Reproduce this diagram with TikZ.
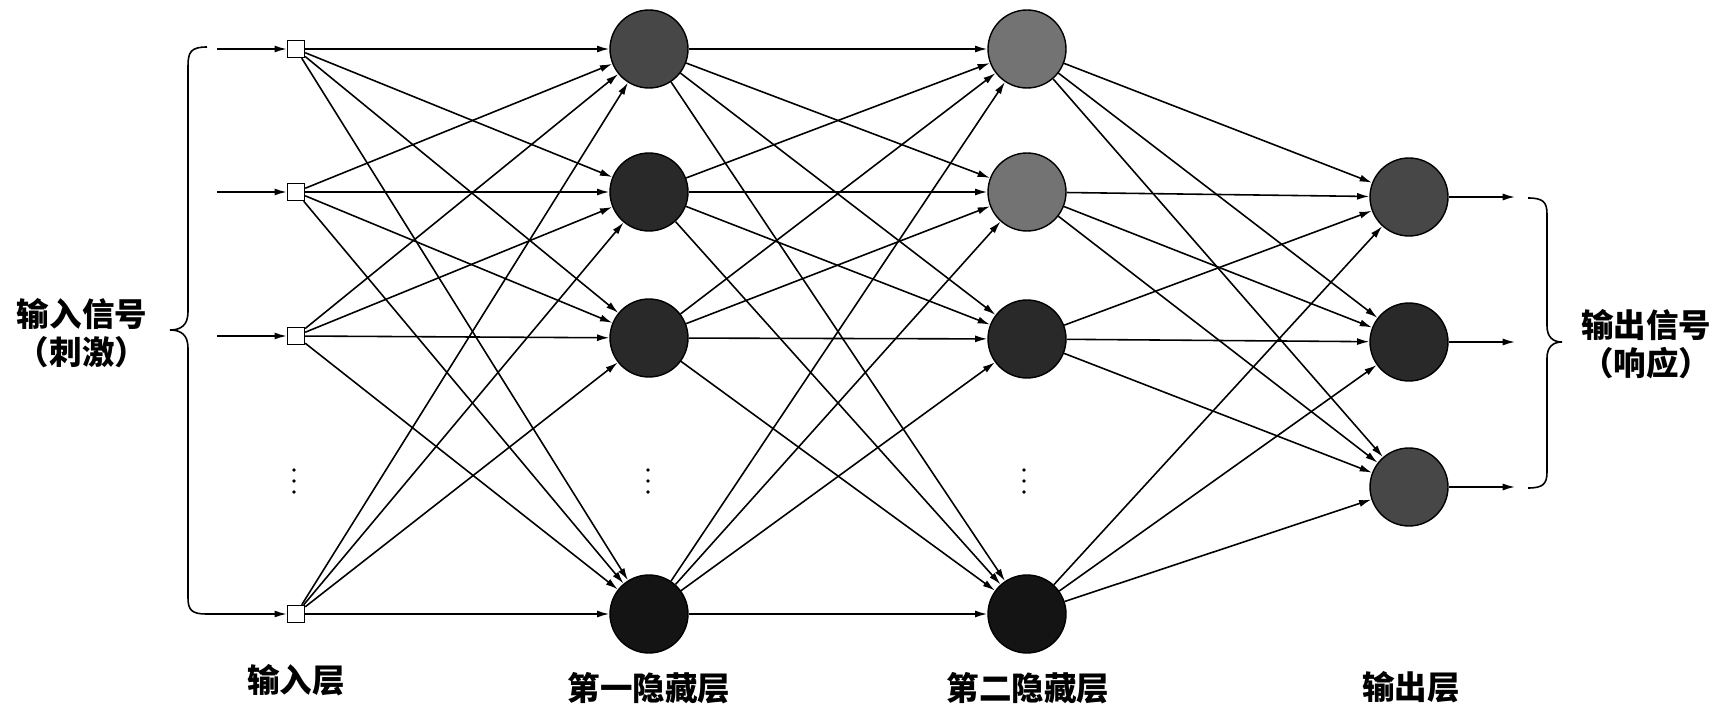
\documentclass[tikz,border=0pt]{standalone}
\usepackage{fontspec}
\newfontfamily\cjk{Noto Sans CJK SC}
\usetikzlibrary{arrows.meta}

\begin{document}
\begin{tikzpicture}[
		x=0.02cm, y=-0.02cm,
		unit/.style={circle, draw=black, fill=#1, line width=0.8pt, minimum size=1.56cm, inner sep=0pt},
		src/.style={rectangle, draw=black, fill=white, line width=0.8pt, minimum size=0.34cm, inner sep=0pt},
		link/.style={line width=0.9pt, -{Latex[length=7pt, width=4pt]}},
		label/.style={font=\cjk\bfseries\fontsize{18.5}{22}\selectfont, align=center}
		]
		
		% ==========================================
		% GREY SHADES FOR THE NEURONS
		% ==========================================
		\colorlet{shade1}{black!55}
		\colorlet{shade2}{black!72}
		\colorlet{shade3}{black!84}
		\colorlet{shade4}{black!92}
		
		\useasboundingbox (0,0) rectangle (1725,709);
		
		% ==========================================
		% INPUT LAYER (small squares)
		% ==========================================
		\foreach \n/\y in {1/49, 2/192, 3/336, 4/614} {
			\node[src] (in\n) at (296,\y) {};
		}
		
		% ==========================================
		% HIDDEN LAYERS AND OUTPUT LAYER
		% ==========================================
		\foreach \n/\y/\c in {1/49/shade2, 2/192/shade3, 3/338/shade3, 4/614/shade4} {
			\node[unit=\c] (ha\n) at (649,\y) {};
		}
		\foreach \n/\y/\c in {1/49/shade1, 2/192/shade1, 3/339/shade3, 4/614/shade4} {
			\node[unit=\c] (hb\n) at (1027,\y) {};
		}
		\foreach \n/\y/\c in {1/197/shade2, 2/342/shade3, 3/487/shade2} {
			\node[unit=\c] (out\n) at (1409,\y) {};
		}
		
		% Vertical dots for the omitted units
		\foreach \x in {294, 648, 1024} {
			\foreach \y in {470, 481, 492} {
				\fill (\x,\y) circle (1.8);
			}
		}
		
		% ==========================================
		% FULLY CONNECTED WEIGHTS
		% ==========================================
		\foreach \i in {1,...,4} {
			\foreach \j in {1,...,4} {
				\draw[link] (in\i) -- (ha\j);
				\draw[link] (ha\i) -- (hb\j);
			}
			\foreach \j in {1,...,3} {
				\draw[link] (hb\i) -- (out\j);
			}
		}
		
		% ==========================================
		% INPUT SIGNALS (left brace)
		% ==========================================
		\coordinate (s1) at (217,49);
		\coordinate (s2) at (217,192);
		\coordinate (s3) at (217,336);
		\coordinate (s4) at (206,614);
		\draw[line width=0.9pt] (207,47) .. controls (191,47) and (188,52) .. (188,66)
			-- (188,312) .. controls (188,325) and (181,330) .. (170,330)
			.. controls (181,330) and (188,335) .. (188,348)
			-- (188,598) .. controls (188,610) and (192,614) .. (s4);
		\foreach \n in {1,...,4} {
			\draw[link] (s\n) -- (in\n);
		}
		\node[label] (inlab) at (82,333) {输入信号\\（刺激）};
		
		% ==========================================
		% OUTPUT SIGNALS (right brace)
		% ==========================================
		\foreach \n/\y in {1/197, 2/342, 3/487} {
			\coordinate (r\n) at (1515,\y);
			\draw[link] (out\n) -- (r\n);
		}
		\draw[line width=0.9pt] (1528,198) .. controls (1543,198) and (1547,202) .. (1547,214)
			-- (1547,326) .. controls (1547,337) and (1553,342) .. (1562,342)
			.. controls (1553,342) and (1547,347) .. (1547,358)
			-- (1547,472) .. controls (1547,484) and (1543,488) .. (1528,488);
		\node[label] (outlab) at (1646,344) {输出信号\\（响应）};
		
		% ==========================================
		% LAYER NAMES
		% ==========================================
		\node[label] (lay0) at (296,680) {输入层};
		\node[label] (lay1) at (649,688) {第一隐藏层};
		\node[label] (lay2) at (1028,688) {第二隐藏层};
		\node[label] (lay3) at (1411,687) {输出层};
		
	\end{tikzpicture}
\end{document}
